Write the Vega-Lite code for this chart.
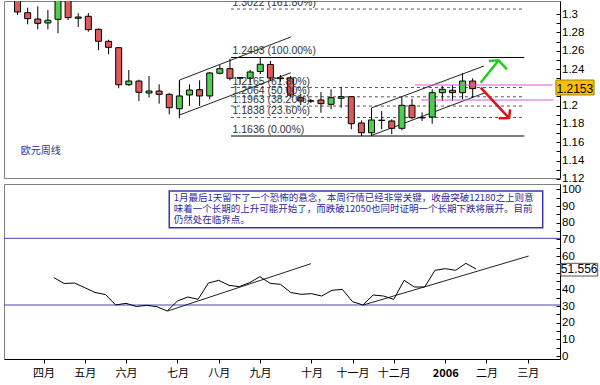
{
  "$schema": "https://vega.github.io/schema/vega-lite/v6.json",
  "background": "white",
  "padding": {"left": 3, "top": 0, "right": 0, "bottom": 0},
  "bounds": "flush",
  "spacing": 6,
  "config": {
    "view": {"stroke": "#808080", "strokeWidth": 1},
    "font": "Liberation Sans",
    "axis": {"labelColor": "black", "domainColor": "black", "tickColor": "black", "grid": false, "labelFont": "Liberation Sans", "labelOverlap": false}
  },
  "datasets": {
    "candles": [
      {"i": 0, "o": 1.3150, "h": 1.3180, "l": 1.2957, "c": 1.2990},
      {"i": 1, "o": 1.2982, "h": 1.3037, "l": 1.2855, "c": 1.2917},
      {"i": 2, "o": 1.2913, "h": 1.3052, "l": 1.2801, "c": 1.2866},
      {"i": 3, "o": 1.2870, "h": 1.3012, "l": 1.2801, "c": 1.2899},
      {"i": 4, "o": 1.2910, "h": 1.3130, "l": 1.2757, "c": 1.3125},
      {"i": 5, "o": 1.3125, "h": 1.3130, "l": 1.2902, "c": 1.2928},
      {"i": 6, "o": 1.2921, "h": 1.2976, "l": 1.2826, "c": 1.2935},
      {"i": 7, "o": 1.2943, "h": 1.2979, "l": 1.2775, "c": 1.2797},
      {"i": 8, "o": 1.2801, "h": 1.2810, "l": 1.2572, "c": 1.2670},
      {"i": 9, "o": 1.2670, "h": 1.2687, "l": 1.2528, "c": 1.2604},
      {"i": 10, "o": 1.2600, "h": 1.2605, "l": 1.2157, "c": 1.2196},
      {"i": 11, "o": 1.2196, "h": 1.2357, "l": 1.2182, "c": 1.2236},
      {"i": 12, "o": 1.2236, "h": 1.2251, "l": 1.2018, "c": 1.2113},
      {"i": 13, "o": 1.2105, "h": 1.2291, "l": 1.2056, "c": 1.2127},
      {"i": 14, "o": 1.2127, "h": 1.2200, "l": 1.1989, "c": 1.2091},
      {"i": 15, "o": 1.2091, "h": 1.2105, "l": 1.1873, "c": 1.1945},
      {"i": 16, "o": 1.1934, "h": 1.2244, "l": 1.1829, "c": 1.2073},
      {"i": 17, "o": 1.2084, "h": 1.2200, "l": 1.1964, "c": 1.2138},
      {"i": 18, "o": 1.2142, "h": 1.2244, "l": 1.1964, "c": 1.2073},
      {"i": 19, "o": 1.2073, "h": 1.2335, "l": 1.2037, "c": 1.2324},
      {"i": 20, "o": 1.2321, "h": 1.2411, "l": 1.2310, "c": 1.2371},
      {"i": 21, "o": 1.2371, "h": 1.2480, "l": 1.2244, "c": 1.2266},
      {"i": 22, "o": 1.2268, "h": 1.2280, "l": 1.2204, "c": 1.2272},
      {"i": 23, "o": 1.2266, "h": 1.2357, "l": 1.2218, "c": 1.2335},
      {"i": 24, "o": 1.2340, "h": 1.2493, "l": 1.2313, "c": 1.2419},
      {"i": 25, "o": 1.2417, "h": 1.2455, "l": 1.2236, "c": 1.2269},
      {"i": 26, "o": 1.2270, "h": 1.2300, "l": 1.2230, "c": 1.2262},
      {"i": 27, "o": 1.2269, "h": 1.2291, "l": 1.2062, "c": 1.2084},
      {"i": 28, "o": 1.2054, "h": 1.2095, "l": 1.1974, "c": 1.2018},
      {"i": 29, "o": 1.2016, "h": 1.2040, "l": 1.1995, "c": 1.2020},
      {"i": 30, "o": 1.2029, "h": 1.2116, "l": 1.1890, "c": 1.1989},
      {"i": 31, "o": 1.1982, "h": 1.2146, "l": 1.1928, "c": 1.2054},
      {"i": 32, "o": 1.2048, "h": 1.2171, "l": 1.1945, "c": 1.2065},
      {"i": 33, "o": 1.2065, "h": 1.2073, "l": 1.1709, "c": 1.1770},
      {"i": 34, "o": 1.1778, "h": 1.1807, "l": 1.1636, "c": 1.1672},
      {"i": 35, "o": 1.1672, "h": 1.1945, "l": 1.1636, "c": 1.1811},
      {"i": 36, "o": 1.1805, "h": 1.1909, "l": 1.1709, "c": 1.1809},
      {"i": 37, "o": 1.1800, "h": 1.1818, "l": 1.1655, "c": 1.1720},
      {"i": 38, "o": 1.1720, "h": 1.2062, "l": 1.1698, "c": 1.1971},
      {"i": 39, "o": 1.1971, "h": 1.2043, "l": 1.1818, "c": 1.1836},
      {"i": 40, "o": 1.1834, "h": 1.1894, "l": 1.1800, "c": 1.1838},
      {"i": 41, "o": 1.1843, "h": 1.2146, "l": 1.1770, "c": 1.2109},
      {"i": 42, "o": 1.2109, "h": 1.2182, "l": 1.2018, "c": 1.2146},
      {"i": 43, "o": 1.2135, "h": 1.2193, "l": 1.2018, "c": 1.2109},
      {"i": 44, "o": 1.2109, "h": 1.2321, "l": 1.2037, "c": 1.2236},
      {"i": 45, "o": 1.2236, "h": 1.2266, "l": 1.2054, "c": 1.2153}
    ],
    "fib": [
      {"level": 1.3022, "pct": "161.80%", "label": "1.3022 (161.80%)"},
      {"level": 1.2493, "pct": "100.00%", "label": "1.2493 (100.00%)"},
      {"level": 1.2165, "pct": "61.80%", "label": "1.2165 (61.80%)"},
      {"level": 1.2064, "pct": "50.00%", "label": "1.2064 (50.00%)"},
      {"level": 1.1963, "pct": "38.20%", "label": "1.1963 (38.20%)"},
      {"level": 1.1838, "pct": "23.60%", "label": "1.1838 (23.60%)"},
      {"level": 1.1636, "pct": "0.00%", "label": "1.1636 (0.00%)"}
    ],
    "channels": [
      {"line": "c1", "o": 1, "i": 27.02, "p": 1.2717},
      {"line": "c1", "o": 2, "i": 16.02, "p": 1.2247},
      {"line": "c1", "o": 3, "i": 16.02, "p": 1.1865},
      {"line": "c1", "o": 4, "i": 27.02, "p": 1.2327},
      {"line": "c2u", "o": 1, "i": 35.05, "p": 1.1945},
      {"line": "c2u", "o": 2, "i": 46.12, "p": 1.2400},
      {"line": "c2l", "o": 1, "i": 34.98, "p": 1.1641},
      {"line": "c2l", "o": 2, "i": 46.24, "p": 1.2109}
    ],
    "keylevels": [
      {"p": 1.2193, "from": 39.3, "to": 52.9},
      {"p": 1.2029, "from": 39.9, "to": 53.0}
    ],
    "arrows": [
      {"arrow": "up-shaft", "dir": "up", "o": 1, "i": 45.79, "p": 1.2218},
      {"arrow": "up-shaft", "dir": "up", "o": 2, "i": 47.57, "p": 1.2462},
      {"arrow": "up-head", "dir": "up", "o": 1, "i": 46.6, "p": 1.2455},
      {"arrow": "up-head", "dir": "up", "o": 2, "i": 47.57, "p": 1.2462},
      {"arrow": "up-head", "dir": "up", "o": 3, "i": 48.38, "p": 1.2364},
      {"arrow": "down-shaft", "dir": "down", "o": 1, "i": 45.79, "p": 1.2163},
      {"arrow": "down-shaft", "dir": "down", "o": 2, "i": 48.6, "p": 1.1832},
      {"arrow": "down-head", "dir": "down", "o": 1, "i": 47.57, "p": 1.1829},
      {"arrow": "down-head", "dir": "down", "o": 2, "i": 48.6, "p": 1.1832},
      {"arrow": "down-head", "dir": "down", "o": 3, "i": 48.7, "p": 1.1927}
    ],
    "rsi": [
      {"i": 4, "rsi": 46.4}, {"i": 5, "rsi": 42.9}, {"i": 6, "rsi": 43.2}, {"i": 7, "rsi": 40.4},
      {"i": 8, "rsi": 37.5}, {"i": 9, "rsi": 36.3}, {"i": 10, "rsi": 30.0}, {"i": 11, "rsi": 31.0},
      {"i": 12, "rsi": 29.1}, {"i": 13, "rsi": 29.8}, {"i": 14, "rsi": 29.0}, {"i": 15, "rsi": 26.4},
      {"i": 16, "rsi": 32.4}, {"i": 17, "rsi": 34.8}, {"i": 18, "rsi": 33.4}, {"i": 19, "rsi": 43.2},
      {"i": 20, "rsi": 44.8}, {"i": 21, "rsi": 41.8}, {"i": 22, "rsi": 41.0}, {"i": 23, "rsi": 43.4},
      {"i": 24, "rsi": 47.0}, {"i": 25, "rsi": 43.0}, {"i": 26, "rsi": 42.4}, {"i": 27, "rsi": 37.5},
      {"i": 28, "rsi": 36.4}, {"i": 29, "rsi": 36.8}, {"i": 30, "rsi": 35.4}, {"i": 31, "rsi": 38.8},
      {"i": 32, "rsi": 39.4}, {"i": 33, "rsi": 32.0}, {"i": 34, "rsi": 30.0}, {"i": 35, "rsi": 36.0},
      {"i": 36, "rsi": 35.4}, {"i": 37, "rsi": 33.4}, {"i": 38, "rsi": 44.8}, {"i": 39, "rsi": 40.8},
      {"i": 40, "rsi": 40.8}, {"i": 41, "rsi": 50.8}, {"i": 42, "rsi": 51.8}, {"i": 43, "rsi": 50.8},
      {"i": 44, "rsi": 55.0}, {"i": 45, "rsi": 51.556}
    ],
    "trend": [
      {"t": "a", "i": 15.05, "v": 26.4},
      {"t": "a", "i": 28.96, "v": 54.8},
      {"t": "b", "i": 34.04, "v": 30.0},
      {"t": "b", "i": 50.1, "v": 59.4}
    ],
    "notes": [
      {"line": 1, "v": 94.4, "text": "1月最后1天留下了一个恐怖的悬念，本周行情已经非常关键，收盘突破12180之上则意"},
      {"line": 2, "v": 87.4, "text": "味着一个长期的上升可能开始了，而跌破12050也同时证明一个长期下跌将展开。目前"},
      {"line": 3, "v": 80.8, "text": "仍然处在临界点。"}
    ]
  },
  "vconcat": [
    {
      "width": 556,
      "height": 177,
      "layer": [
        {
          "data": {"name": "fib"},
          "transform": [{"filter": "datum.pct == '100.00%' || datum.pct == '0.00%'"}],
          "mark": {"type": "rule", "color": "black", "strokeWidth": 1},
          "encoding": {
            "x": {"datum": 21.1, "type": "quantitative", "scale": {"domain": [-0.845, 53.14], "nice": false, "zero": false}, "axis": null, "title": null},
            "x2": {"datum": 50.1},
            "y": {"field": "level", "type": "quantitative", "title": null,
              "scale": {"domain": [1.11775, 1.31098], "nice": false, "zero": false},
              "axis": {"orient": "right", "title": null,
                "values": [1.12, 1.13, 1.14, 1.15, 1.16, 1.17, 1.18, 1.19, 1.2, 1.21, 1.22, 1.23, 1.24, 1.25, 1.26, 1.27, 1.28, 1.29, 1.3],
                "tickCount": 100,
                "labelExpr": "round(datum.value*100) % 2 == 0 ? format(datum.value, '.2~f') : ''",
                "tickSize": -4, "labelPadding": 5.5, "tickOffset": 3, "labelFontSize": 11.5,
                "labelFlush": false, "labelOverlap": false}}
          }
        },
        {
          "data": {"name": "fib"},
          "transform": [{"filter": "datum.pct != '100.00%' && datum.pct != '0.00%'"}],
          "mark": {"type": "rule", "color": "#555555", "strokeWidth": 1, "strokeDash": [3, 3]},
          "encoding": {
            "x": {"datum": 21.1, "type": "quantitative", "axis": null, "title": null},
            "x2": {"datum": 50.1},
            "y": {"field": "level", "type": "quantitative", "title": null}
          }
        },
        {
          "data": {"name": "channels"},
          "mark": {"type": "line", "color": "#222222", "strokeWidth": 1},
          "encoding": {
            "x": {"field": "i", "type": "quantitative", "axis": null, "title": null},
            "y": {"field": "p", "type": "quantitative", "title": null},
            "detail": {"field": "line"},
            "order": {"field": "o"}
          }
        },
        {
          "data": {"name": "candles"},
          "mark": {"type": "rule", "color": "black", "strokeWidth": 1, "clip": true},
          "encoding": {
            "x": {"field": "i", "type": "quantitative", "axis": null, "title": null},
            "y": {"field": "l", "type": "quantitative", "title": null},
            "y2": {"field": "h"}
          }
        },
        {
          "data": {"name": "candles"},
          "mark": {"type": "bar", "size": 6, "stroke": "black", "strokeWidth": 1, "clip": true},
          "encoding": {
            "x": {"field": "i", "type": "quantitative", "axis": null, "title": null},
            "y": {"field": "o", "type": "quantitative", "title": null},
            "y2": {"field": "c"},
            "fill": {"condition": {"test": "datum.c >= datum.o", "value": "#4ccf4c"}, "value": "#e05a5a"}
          }
        },
        {
          "data": {"name": "fib"},
          "mark": {"type": "text", "align": "left", "baseline": "alphabetic", "dy": -3, "fontSize": 10.5, "color": "#333333", "clip": true, "font": "Liberation Sans"},
          "encoding": {
            "x": {"datum": 21.25, "type": "quantitative", "axis": null, "title": null},
            "y": {"field": "level", "type": "quantitative", "title": null},
            "text": {"field": "label"}
          }
        },
        {
          "data": {"name": "keylevels"},
          "mark": {"type": "rule", "color": "#e055e0", "strokeWidth": 1.2},
          "encoding": {
            "x": {"field": "from", "type": "quantitative", "axis": null, "title": null},
            "x2": {"field": "to"},
            "y": {"field": "p", "type": "quantitative", "title": null}
          }
        },
        {
          "data": {"name": "arrows"},
          "mark": {"type": "line", "strokeWidth": 2.5},
          "encoding": {
            "x": {"field": "i", "type": "quantitative", "axis": null, "title": null},
            "y": {"field": "p", "type": "quantitative", "title": null},
            "detail": {"field": "arrow"},
            "order": {"field": "o"},
            "color": {"field": "dir", "type": "nominal", "scale": {"domain": ["up", "down"], "range": ["#22cc22", "#dd1111"]}, "legend": null}
          }
        },
        {
          "data": {"values": [{"name": "欧元周线"}]},
          "mark": {"type": "text", "align": "left", "baseline": "middle", "font": "Noto Sans CJK SC", "fontSize": 10, "color": "#2f2fa0"},
          "encoding": {
            "x": {"datum": 0.32, "type": "quantitative", "axis": null, "title": null},
            "y": {"datum": 1.1472, "type": "quantitative", "title": null},
            "text": {"field": "name"}
          }
        },
        {
          "data": {"values": [{"close": 1.2153}]},
          "mark": {"type": "rect", "fill": "#fcc000", "stroke": "#a08000", "strokeWidth": 1},
          "encoding": {
            "x": {"datum": 53.23, "type": "quantitative", "axis": null, "title": null},
            "x2": {"datum": 57.0},
            "y": {"datum": 1.2247, "type": "quantitative", "title": null},
            "y2": {"datum": 1.2084}
          }
        },
        {
          "data": {"values": [{"close": 1.2153}]},
          "mark": {"type": "text", "align": "center", "baseline": "middle", "fontSize": 12, "color": "black", "font": "Liberation Sans"},
          "encoding": {
            "x": {"datum": 55.1, "type": "quantitative", "axis": null, "title": null},
            "y": {"field": "close", "type": "quantitative", "title": null},
            "text": {"field": "close", "type": "quantitative", "format": ".4f"}
          }
        }
      ]
    },
    {
      "width": 556,
      "height": 175,
      "layer": [
        {
          "data": {"values": [{"v": 30}, {"v": 70}]},
          "mark": {"type": "rule", "color": "#4646b4", "strokeWidth": 1},
          "encoding": {
            "y": {"field": "v", "type": "quantitative", "title": null,
              "scale": {"domain": [-2.4, 102.6], "nice": false, "zero": false},
              "axis": {"orient": "right", "title": null,
                "values": [0, 5, 10, 15, 20, 25, 30, 35, 40, 45, 50, 55, 60, 65, 70, 75, 80, 85, 90, 95, 100],
                "tickCount": 100,
                "labelExpr": "datum.value % 10 == 0 ? datum.label : ''",
                "tickSize": -4, "labelPadding": 5.5, "tickOffset": 1, "labelFontSize": 11.5,
                "labelFlush": false, "labelOverlap": false}}
          }
        },
        {
          "data": {"values": [{"box": "note"}]},
          "mark": {"type": "rect", "fill": "white", "stroke": "#3838a8", "strokeWidth": 1.5},
          "encoding": {
            "x": {"datum": 15.2, "type": "quantitative", "title": null},
            "x2": {"datum": 51.46},
            "y": {"datum": 98.4, "type": "quantitative", "title": null},
            "y2": {"datum": 76.4}
          }
        },
        {
          "data": {"name": "notes"},
          "mark": {"type": "text", "align": "left", "baseline": "middle", "font": "Noto Sans CJK SC", "fontSize": 9.5, "color": "#2a2aa0"},
          "encoding": {
            "x": {"datum": 15.63, "type": "quantitative", "title": null},
            "y": {"field": "v", "type": "quantitative", "title": null},
            "text": {"field": "text"}
          }
        },
        {
          "data": {"name": "trend"},
          "mark": {"type": "line", "color": "#222222", "strokeWidth": 1},
          "encoding": {
            "x": {"field": "i", "type": "quantitative", "title": null},
            "y": {"field": "v", "type": "quantitative", "title": null},
            "detail": {"field": "t"}
          }
        },
        {
          "data": {"name": "rsi"},
          "mark": {"type": "line", "color": "black", "strokeWidth": 1},
          "encoding": {
            "x": {"field": "i", "type": "quantitative", "title": null,
              "scale": {"domain": [-0.845, 53.14], "nice": false, "zero": false},
              "axis": {"orient": "bottom", "title": null,
                "values": [3, 7, 11, 16, 20, 24, 29, 33, 37, 42, 46, 50],
                "tickCount": 100,
                "labelExpr": "['四月','五月','六月','七月','八月','九月','十月','十一月','十二月','2006','二月','三月'][indexof([3, 7, 11, 16, 20, 24, 29, 33, 37, 42, 46, 50], datum.value)]",
                "labelFont": "Noto Sans CJK SC", "labelFontSize": 11,
                "labelFontWeight": {"condition": {"test": "datum.value == 42", "value": "bold"}, "value": "normal"},
                "tickSize": 4, "labelPadding": 4, "labelFlush": false, "labelOverlap": false}},
            "y": {"field": "rsi", "type": "quantitative", "title": null}
          }
        },
        {
          "data": {"values": [{"rsi": 51.556}]},
          "mark": {"type": "rect", "fill": "white", "stroke": "#555555", "strokeWidth": 1},
          "encoding": {
            "x": {"datum": 53.23, "type": "quantitative", "title": null},
            "x2": {"datum": 56.8},
            "y": {"datum": 55.0, "type": "quantitative", "title": null},
            "y2": {"datum": 47.4}
          }
        },
        {
          "data": {"values": [{"rsi": 51.556}]},
          "mark": {"type": "text", "align": "center", "baseline": "middle", "fontSize": 12, "color": "black", "font": "Liberation Sans"},
          "encoding": {
            "x": {"datum": 55.0, "type": "quantitative", "title": null},
            "y": {"field": "rsi", "type": "quantitative", "title": null},
            "text": {"field": "rsi", "type": "quantitative", "format": ".3f"}
          }
        }
      ]
    }
  ]
}
